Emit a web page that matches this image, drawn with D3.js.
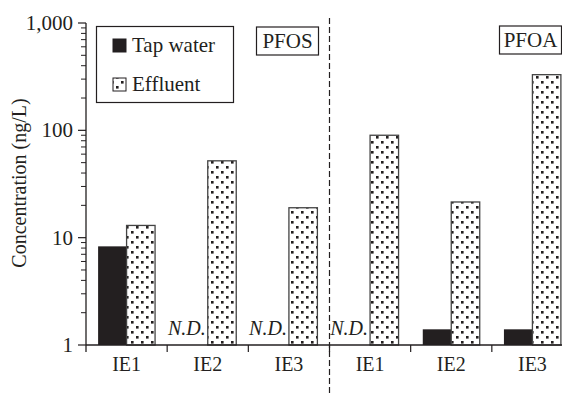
<!DOCTYPE html>
<html>
<head>
<meta charset="utf-8">
<script src="https://cdn.jsdelivr.net/npm/d3@7"></script>
<style>
  html, body { margin: 0; padding: 0; background: #fff; }
  svg { display: block; }
</style>
</head>
<body>
<svg id="chart" width="562" height="396" font-family="'Liberation Serif', Tinos, 'Times New Roman', Times, 'Nimbus Roman', 'DejaVu Serif', serif"></svg>
<script>
// Perfluorinated compounds in tap water and effluent at three sites
const compounds = ["PFOS", "PFOS", "PFOS", "PFOA", "PFOA", "PFOA"];
const sites = ["IE1", "IE2", "IE3", "IE1", "IE2", "IE3"];
const tapWater = [8.3, null, null, null, 1.4, 1.4];   // null = not detected
const effluent = [13, 52, 19, 90, 21.5, 330];
const yTickValues = [1, 10, 100, 1000];
const seriesNames = ["Tap water", "Effluent"];

const ink = "#231f20";
const svg = d3.select("#chart");

const keys = sites.map((s, i) => compounds[i] + "-" + s);
const x = d3.scaleBand().domain(keys).range([86, 573]).paddingInner(0).paddingOuter(0);
const xs = d3.scaleBand().domain(["tap", "eff"]).range([0, x.bandwidth()])
  .paddingInner(0).paddingOuter(0.425);
const y = d3.scaleLog().domain([1, 1000]).range([345, 23]);

// dotted fill for effluent bars
const defs = svg.append("defs");
const pat = defs.append("pattern").attr("id", "dots")
  .attr("patternUnits", "userSpaceOnUse").attr("width", 10).attr("height", 10);
pat.append("rect").attr("width", 10).attr("height", 10).attr("fill", "#fff");
pat.append("rect").attr("x", 1).attr("y", 1).attr("width", 2.6).attr("height", 2.6).attr("fill", ink);
pat.append("rect").attr("x", 6).attr("y", 6).attr("width", 2.6).attr("height", 2.6).attr("fill", ink);

// bars
const rows = keys.map((k, i) => ({ key: k, tap: tapWater[i], eff: effluent[i] }));
svg.append("g").selectAll("rect")
  .data(rows.filter(d => d.tap != null))
  .join("rect")
  .attr("x", d => x(d.key) + xs("tap"))
  .attr("width", xs.bandwidth())
  .attr("y", d => y(d.tap))
  .attr("height", d => y(1) - y(d.tap))
  .attr("fill", ink);

svg.append("g").selectAll("rect")
  .data(rows)
  .join("rect")
  .attr("x", d => x(d.key) + xs("eff"))
  .attr("width", xs.bandwidth())
  .attr("y", d => y(d.eff))
  .attr("height", d => y(1) - y(d.eff))
  .attr("fill", "url(#dots)")
  .attr("stroke", "#444")
  .attr("stroke-width", 1.3);

// N.D. markers where tap water was not detected
svg.append("g").selectAll("text")
  .data(rows.filter(d => d.tap == null))
  .join("text")
  .attr("x", d => x(d.key) + xs("eff") - 2)
  .attr("y", 335)
  .attr("text-anchor", "end")
  .attr("font-style", "italic")
  .attr("font-size", 20)
  .attr("fill", ink)
  .text("N.D.");

// y axis with log minor ticks
const yAxis = svg.append("g").attr("transform", "translate(86,0)");
const minors = [];
for (let d = 1; d < 1000; d *= 10) for (let m = 2; m <= 9; m++) minors.push(d * m);
yAxis.selectAll("line.minor").data(minors).join("line")
  .attr("class", "minor")
  .attr("x1", -5).attr("x2", 0)
  .attr("y1", d => y(d)).attr("y2", d => y(d))
  .attr("stroke", ink).attr("stroke-width", 1);
yAxis.selectAll("line.major").data(yTickValues).join("line")
  .attr("class", "major")
  .attr("x1", -8).attr("x2", 0)
  .attr("y1", d => y(d)).attr("y2", d => y(d))
  .attr("stroke", ink).attr("stroke-width", 1.2);
yAxis.append("line").attr("x1", 0).attr("x2", 0).attr("y1", y(1000)).attr("y2", 352)
  .attr("stroke", ink).attr("stroke-width", 1.3);
yAxis.selectAll("text.tl").data(yTickValues).join("text")
  .attr("class", "tl")
  .attr("x", -13).attr("y", d => y(d)).attr("dy", "0.33em")
  .attr("text-anchor", "end").attr("font-size", 21).attr("fill", ink)
  .text(d => d3.format(",")(d));

svg.append("text")
  .attr("transform", "translate(26,183) rotate(-90)")
  .attr("text-anchor", "middle").attr("font-size", 20).attr("fill", ink)
  .text("Concentration (ng/L)");

// x axis
svg.append("line").attr("x1", 86).attr("x2", 562).attr("y1", y(1)).attr("y2", y(1))
  .attr("stroke", ink).attr("stroke-width", 1.3);
svg.append("g").selectAll("line").data(keys.slice(1)).join("line")
  .attr("x1", d => x(d)).attr("x2", d => x(d))
  .attr("y1", y(1)).attr("y2", y(1) + 7)
  .attr("stroke", ink).attr("stroke-width", 1.2);
svg.append("g").selectAll("text").data(rows).join("text")
  .attr("x", d => x(d.key) + x.bandwidth() / 2)
  .attr("y", 371)
  .attr("text-anchor", "middle").attr("font-size", 20).attr("fill", ink)
  .text((d, i) => sites[i]);

// dashed divider between compounds
const divX = x(keys[3]);
svg.append("line").attr("x1", divX).attr("x2", divX).attr("y1", 18).attr("y2", 396)
  .attr("stroke", ink).attr("stroke-width", 1.2).attr("stroke-dasharray", "6,3");

// compound labels
function boxLabel(x0, y0, w, h, label) {
  svg.append("rect").attr("x", x0).attr("y", y0).attr("width", w).attr("height", h)
    .attr("fill", "#fff").attr("stroke", ink).attr("stroke-width", 1.2);
  svg.append("text").attr("x", x0 + w / 2).attr("y", y0 + h / 2).attr("dy", "0.35em")
    .attr("text-anchor", "middle").attr("font-size", 21).attr("fill", ink).text(label);
}
boxLabel(256.5, 27, 62, 28, "PFOS");
boxLabel(499.5, 26, 62, 28, "PFOA");

// legend
const lg = svg.append("g");
lg.append("rect").attr("x", 96.5).attr("y", 26.5).attr("width", 137).attr("height", 76)
  .attr("fill", "#fff").attr("stroke", ink).attr("stroke-width", 1.2);
const legendRows = [{ name: seriesNames[0], fill: ink, ys: 39 }, { name: seriesNames[1], fill: "url(#dots)", ys: 78 }];
legendRows.forEach(r => {
  lg.append("rect").attr("x", 113).attr("y", r.ys).attr("width", 13).attr("height", 13)
    .attr("fill", r.fill).attr("stroke", ink).attr("stroke-width", 1);
  lg.append("text").attr("x", 132).attr("y", r.ys + 12.5).attr("font-size", 21).attr("fill", ink).text(r.name);
});
</script>
</body>
</html>
